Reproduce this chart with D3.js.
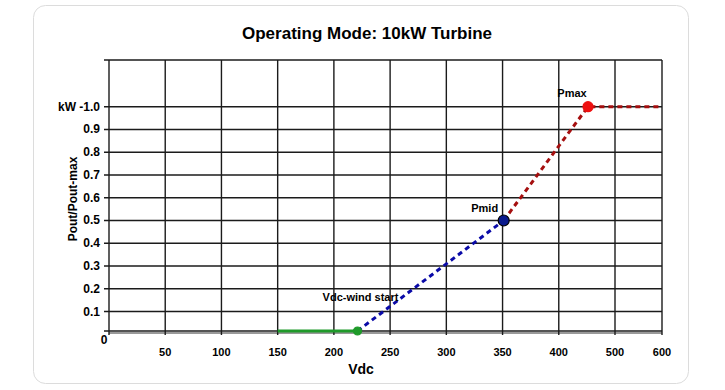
<!DOCTYPE html>
<html lang="en">
<head>
  <meta charset="UTF-8">
  <script src="https://d3js.org/d3.v7.min.js"></script>
  <style>
    body { margin: 0; background: #fff; }
    svg { display: block; font-family: "Liberation Sans", Arial, sans-serif; }
  </style>
</head>
<body>
  <script>
    const width = 725;
    const height = 390;

    // x tick labels (the axis is not uniform: 400 -> 500 -> 600)
    const xTicks = [0, 50, 100, 150, 200, 250, 300, 350, 400, 500, 600];
    const yTicks = [0.1, 0.2, 0.3, 0.4, 0.5, 0.6, 0.7, 0.8, 0.9, 1.0];
    const yTickLabels = ["0.1", "0.2", "0.3", "0.4", "0.5", "0.6", "0.7", "0.8", "0.9", "kW -1.0"];

    // series
    const windStartLine = [[150, 0], [221, 0]];
    const midLine = [[221, 0], [351, 0.5]];
    const maxLine = [[351, 0.5], [452, 1.0], [600, 1.0]];
    const markers = [
      { name: "Vdc-wind start", v: 221, p: 0 },
      { name: "Pmid", v: 351, p: 0.5 },
      { name: "Pmax", v: 452, p: 1.0 }
    ];

    const svg = d3.select("body").append("svg")
      .attr("width", width)
      .attr("height", height);

    // card
    svg.append("rect")
      .attr("x", 33.5).attr("y", 5.5)
      .attr("width", 655).attr("height", 378)
      .attr("rx", 12)
      .attr("fill", "#fff")
      .attr("stroke", "#dcdcdc");

    svg.append("text")
      .attr("x", 367).attr("y", 39)
      .attr("text-anchor", "middle")
      .attr("font-size", 17).attr("font-weight", "bold")
      .text("Operating Mode: 10kW Turbine");

    const plotLeft = 109, plotRight = 662, plotTop = 60, plotBottom = 333;

    // value -> tick index, then index -> pixel (last step is shorter in the original)
    const toIndex = d3.scaleLinear().domain(xTicks).range(xTicks.map((d, i) => i));
    const idxScale = d3.scaleLinear().domain([0, 9, 10]).range([plotLeft, 615, plotRight]);
    const x = v => idxScale(toIndex(v));
    // first step (0 -> 0.1) is a bit shorter than the others
    const y = d3.scaleLinear().domain([0, 0.1, 1.0]).range([331, 311.5, 106.7]);

    const grid = svg.append("g").attr("stroke", "#1b1b1b").attr("stroke-width", 1.4);

    // horizontal grid lines
    grid.selectAll("line.h")
      .data(yTicks)
      .join("line")
      .attr("x1", plotLeft - 5).attr("x2", plotRight)
      .attr("y1", d => y(d)).attr("y2", d => y(d));

    // baseline (double) and top frame
    grid.append("line").attr("x1", plotLeft - 5).attr("x2", plotRight).attr("y1", y(0)).attr("y2", y(0));
    grid.append("line").attr("x1", plotLeft).attr("x2", plotRight).attr("y1", plotBottom).attr("y2", plotBottom)
      .attr("stroke", "#777");
    grid.append("line").attr("x1", plotLeft - 5).attr("x2", plotRight).attr("y1", plotTop).attr("y2", plotTop);

    // vertical grid lines
    grid.selectAll("line.v")
      .data(xTicks)
      .join("line")
      .attr("x1", d => x(d)).attr("x2", d => x(d))
      .attr("y1", plotTop).attr("y2", plotBottom + 2);

    // tick labels
    svg.append("g")
      .selectAll("text")
      .data(xTicks.slice(1))
      .join("text")
      .attr("x", d => x(d))
      .attr("y", 356)
      .attr("text-anchor", "middle")
      .attr("font-size", 11).attr("font-weight", "bold")
      .text(d => d);

    svg.append("text")
      .attr("x", 104).attr("y", 344)
      .attr("text-anchor", "middle")
      .attr("font-size", 12).attr("font-weight", "bold")
      .text("0");

    svg.append("g")
      .selectAll("text")
      .data(yTicks)
      .join("text")
      .attr("x", 100)
      .attr("y", d => y(d) + 4)
      .attr("text-anchor", "end")
      .attr("font-size", 12).attr("font-weight", "bold")
      .attr("xml:space", "preserve")
      .text((d, i) => yTickLabels[i]);

    // axis titles
    svg.append("text")
      .attr("transform", "translate(77,199) rotate(-90)")
      .attr("text-anchor", "middle")
      .attr("font-size", 12).attr("font-weight", "bold")
      .text("Pout/Pout-max");

    svg.append("text")
      .attr("x", 361).attr("y", 374)
      .attr("text-anchor", "middle")
      .attr("font-size", 14).attr("font-weight", "bold")
      .text("Vdc");

    const line = d3.line().x(d => x(d[0])).y(d => y(d[1]));

    svg.append("path")
      .datum(windStartLine)
      .attr("d", line)
      .attr("fill", "none")
      .attr("stroke", "#1f9a2a")
      .attr("stroke-width", 3);

    svg.append("path")
      .datum(midLine)
      .attr("d", line)
      .attr("fill", "none")
      .attr("stroke", "#0a0aa8")
      .attr("stroke-width", 3)
      .attr("stroke-dasharray", "5,4");

    svg.append("path")
      .datum(maxLine)
      .attr("d", line)
      .attr("fill", "none")
      .attr("stroke", "#a50f0f")
      .attr("stroke-width", 3)
      .attr("stroke-dasharray", "5,4");

    // markers
    const markerStyle = {
      "Vdc-wind start": { r: 4, fill: "#1f9a2a", stroke: "#1f9a2a" },
      "Pmid": { r: 5.5, fill: "#0a1a8c", stroke: "#000" },
      "Pmax": { r: 5, fill: "#ee1111", stroke: "#ee1111" }
    };
    svg.append("g")
      .selectAll("circle")
      .data(markers)
      .join("circle")
      .attr("cx", d => x(d.v))
      .attr("cy", d => y(d.p))
      .attr("r", d => markerStyle[d.name].r)
      .attr("fill", d => markerStyle[d.name].fill)
      .attr("stroke", d => markerStyle[d.name].stroke)
      .attr("stroke-width", 1.2);

    // annotations
    const labelOffset = {
      "Vdc-wind start": [3, -30],
      "Pmid": [-19, -8],
      "Pmax": [-16, -10]
    };
    svg.append("g")
      .selectAll("text")
      .data(markers)
      .join("text")
      .attr("x", d => x(d.v) + labelOffset[d.name][0])
      .attr("y", d => y(d.p) + labelOffset[d.name][1])
      .attr("text-anchor", "middle")
      .attr("font-size", 11).attr("font-weight", "bold")
      .text(d => d.name);
  </script>
</body>
</html>
